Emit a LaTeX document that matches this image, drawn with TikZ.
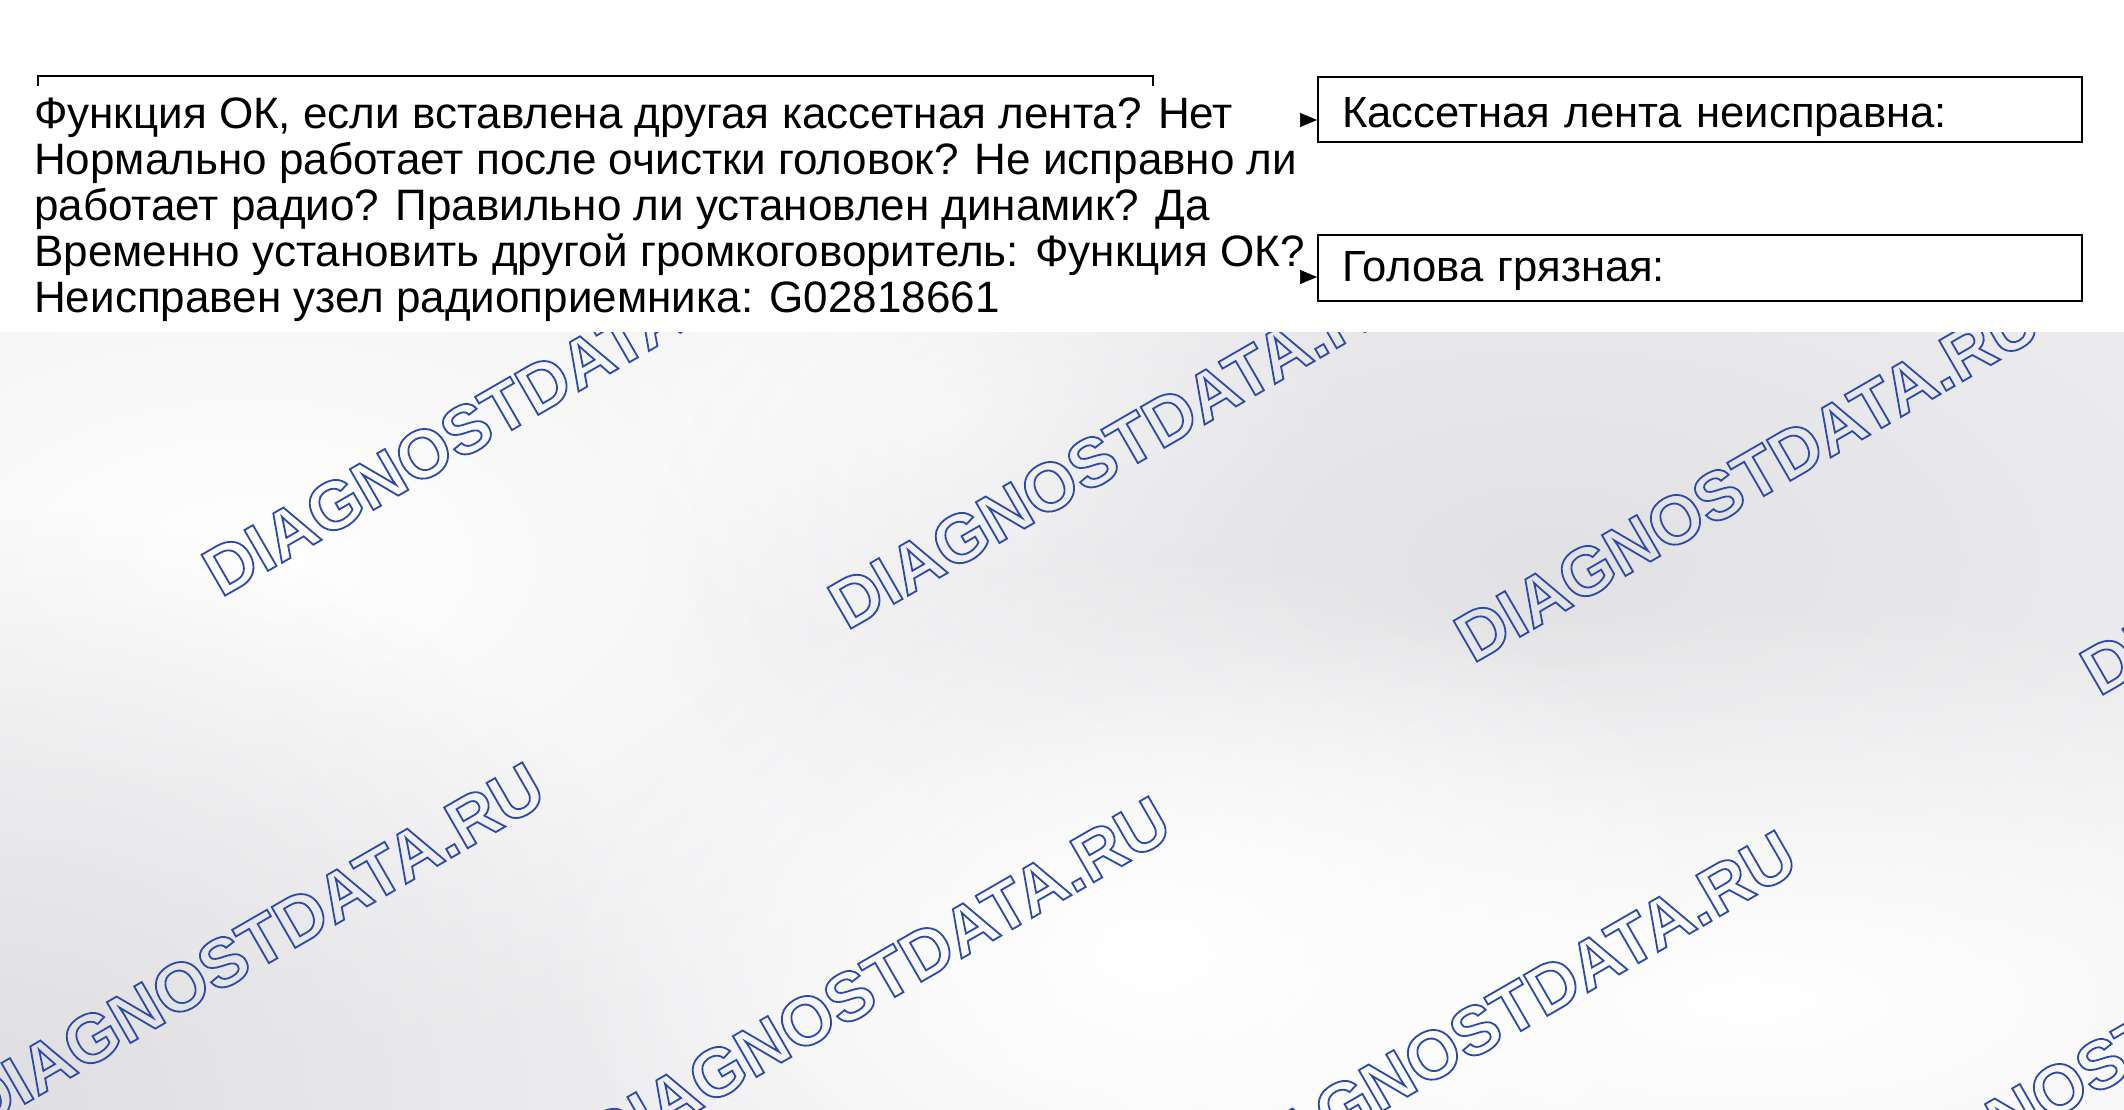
\documentclass[tikz,border=0pt]{standalone}
\usepackage{fontspec}
\setmainfont{Liberation Sans}
\usetikzlibrary{arrows.meta,fadings}
\definecolor{wmblue}{HTML}{2B4BA6}
\definecolor{bgbase}{HTML}{EFEFF1}
\definecolor{bggray}{HTML}{E2E2E5}
\definecolor{bgdark}{HTML}{DFDFE2}
\newcommand\wmfnt{\bfseries\fontsize{68.5}{68.5}\selectfont}
\newcommand\outl[1]{\special{pdf:literal direct 1 Tr 1.8 w}#1\special{pdf:literal direct 0 Tr}}
\tikzfading[name=blob, inner color=transparent!0, outer color=transparent!100]
\tikzset{
  wm/.style={font=\wmfnt, text=wmblue, inner sep=0pt, anchor=base west, rotate=30},
  qtext/.style={font=\fontsize{44}{46}\selectfont, align=left, inner sep=0pt, anchor=north west},
  ansbox/.style={draw, line width=2.3pt, minimum width=764pt, minimum height=65pt,
    text width=716pt, inner xsep=24pt, inner ysep=0pt, align=left, anchor=north west,
    font=\fontsize{43.6}{46}\selectfont},
  tip/.style={-{Triangle[length=17pt,width=14pt]}, line width=0.5pt},
  bracket/.style={line width=2.3pt},
}
\begin{document}
\begin{tikzpicture}[x=1pt,y=-1pt]
\useasboundingbox (0,0) rectangle (2124,1110);
% background
\fill[bgbase] (0,0) rectangle (2124,1110);
\fill[white, path fading=blob] (250,560) ellipse (900 and 500);
\fill[white, path fading=blob] (950,420) ellipse (400 and 240);
\fill[bggray, path fading=blob] (1550,560) ellipse (900 and 460);
\fill[bgdark, path fading=blob] (0,1110) ellipse (700 and 600);
\fill[white, path fading=blob] (1750,1000) ellipse (1100 and 400);
\fill[white, path fading=blob] (1150,950) ellipse (600 and 400);
% watermarks
\foreach \px/\py [count=\i] in {-405/565,221/598,847/631,1473/664,2099/697,-22/1131,604/1165,1230/1199,1856/1233}
  \node[wm] (wm\i) at (\px,\py) {\outl{DIAGNOSTDATA.RU}};
% white band
\fill[white] (0,0) rectangle (2124,332);
% diagram
\draw[bracket] (38,86) -- (38,76) -- (1153,76) -- (1153,86);
\node[qtext] (q) at (34,98) {Функция ОК, если вставлена другая кассетная лента? Нет\\
Нормально работает после очистки головок? Не исправно ли\\
работает радио? Правильно ли установлен динамик? Да\\
Временно установить другой громкоговоритель: Функция ОК?\\
Неисправен узел радиоприемника: G02818661};
\node[ansbox, text height=36pt, text depth=0pt] (b1) at (1317,76) {Кассетная лента неисправна:};
\node[ansbox, minimum height=66pt, text height=31pt, text depth=5pt] (b2) at (1317,234) {Голова грязная:};
\coordinate (a1) at (1300,120);
\coordinate (a2) at (1300,277);
\draw[tip] (a1) -- (a1 -| b1.west);
\draw[tip] (a2) -- (a2 -| b2.west);
\end{tikzpicture}
\end{document}
